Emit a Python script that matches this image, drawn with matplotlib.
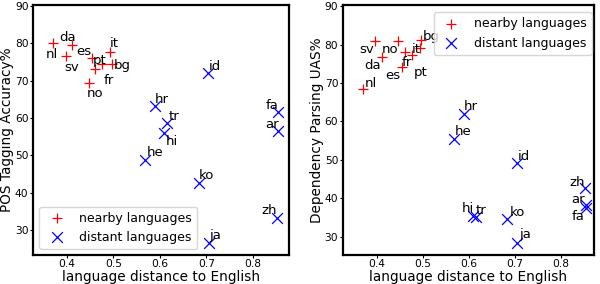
import matplotlib
matplotlib.use("Agg")
import matplotlib.pyplot as plt

# language distance to English
near_langs = ["nl", "sv", "da", "no", "es", "fr", "pt", "it", "bg"]
near_dist = [0.371, 0.397, 0.412, 0.447, 0.454, 0.461, 0.476, 0.493, 0.497]
near_pos = [80.2, 76.7, 79.5, 69.3, 76.0, 73.1, 74.6, 77.7, 74.5]
near_uas = [68.5, 80.9, 76.7, 80.8, 74.1, 78.0, 77.3, 79.2, 81.1]

dist_langs = ["he", "hr", "hi", "tr", "ko", "id", "ja", "zh", "ar", "fa"]
dist_dist = [0.568, 0.589, 0.608, 0.615, 0.684, 0.704, 0.705, 0.853, 0.855, 0.855]
dist_pos = [48.8, 63.2, 55.9, 58.8, 42.5, 72.1, 26.4, 33.3, 56.5, 61.7]
dist_uas = [55.3, 61.9, 35.3, 35.1, 34.5, 49.2, 28.2, 42.6, 38.3, 37.4]

# label offsets (pixels) for each panel
pos_near_off = {"nl": (-8, -15), "sv": (-1, -15), "da": (-13, 4), "no": (-2, -14),
                "es": (-16, 3), "fr": (8, -15), "pt": (-9, 0), "it": (0, 5), "bg": (2, -5)}
pos_dist_off = {"he": (2, 4), "hr": (0, 3), "hi": (2, -12), "tr": (2, 3), "ko": (0, 4),
                "id": (1, 3), "ja": (1, 4), "zh": (-16, 4), "ar": (-13, 3), "fa": (-13, 3)}
uas_near_off = {"nl": (1, 2), "sv": (-16, -12), "da": (-18, -12), "no": (-17, -12),
                "es": (-16, -12), "fr": (-3, -14), "pt": (2, -21), "it": (-8, -5), "bg": (1, 0)}
uas_dist_off = {"he": (1, 4), "hr": (0, 4), "hi": (-11, 4), "tr": (0, 3), "ko": (2, 3),
                "id": (1, 3), "ja": (2, 5), "zh": (-16, 2), "ar": (-15, 2), "fa": (-15, -12)}

fig = plt.figure(figsize=(6.0, 2.84), dpi=100)
ax1 = fig.add_axes([0.055, 0.1021, 0.4267, 0.8803])
ax2 = fig.add_axes([0.5712, 0.1021, 0.4188, 0.8803])

def panel(ax, ny, dy, noff, doff, ylabel, ylim, xlim, legend_kw):
    ax.scatter(near_dist, ny, marker="+", color="red", s=60, linewidths=0.9,
               label="nearby languages", zorder=3)
    ax.scatter(dist_dist, dy, marker="x", color="blue", s=60, linewidths=0.9,
               label="distant languages", zorder=3)
    for n, x, y in zip(near_langs, near_dist, ny):
        ax.annotate(n, (x, y), xytext=noff[n], textcoords="offset pixels",
                    fontsize=9.5, ha="left", va="baseline")
    for n, x, y in zip(dist_langs, dist_dist, dy):
        ax.annotate(n, (x, y), xytext=doff[n], textcoords="offset pixels",
                    fontsize=9.5, ha="left", va="baseline")
    ax.set_xlim(*xlim)
    ax.set_ylim(*ylim)
    ax.set_xticks([0.4, 0.5, 0.6, 0.7, 0.8])
    ax.set_yticks([30, 40, 50, 60, 70, 80, 90])
    ax.tick_params(labelsize=7.7, length=2, width=0.8, pad=1.2)
    ax.set_xlabel("language distance to English", fontsize=9.8, labelpad=0.5)
    ax.set_ylabel(ylabel, fontsize=9.8, labelpad=0.5)
    for s in ax.spines.values():
        s.set_linewidth(1.6)
    leg = ax.legend(fontsize=9, **legend_kw)
    leg.set_zorder(10)

panel(ax1, near_pos, dist_pos, pos_near_off, pos_dist_off, "POS Tagging Accuracy%",
      (23.3, 90.3), (0.327, 0.878), dict(loc="lower left"))
panel(ax2, near_uas, dist_uas, uas_near_off, uas_dist_off, "Dependency Parsing UAS%",
      (25.2, 90.3), (0.326, 0.872), dict(loc="upper right", bbox_to_anchor=(1.005, 0.985),
                                          borderaxespad=0.3))

fig.savefig("out.png", dpi=100)
